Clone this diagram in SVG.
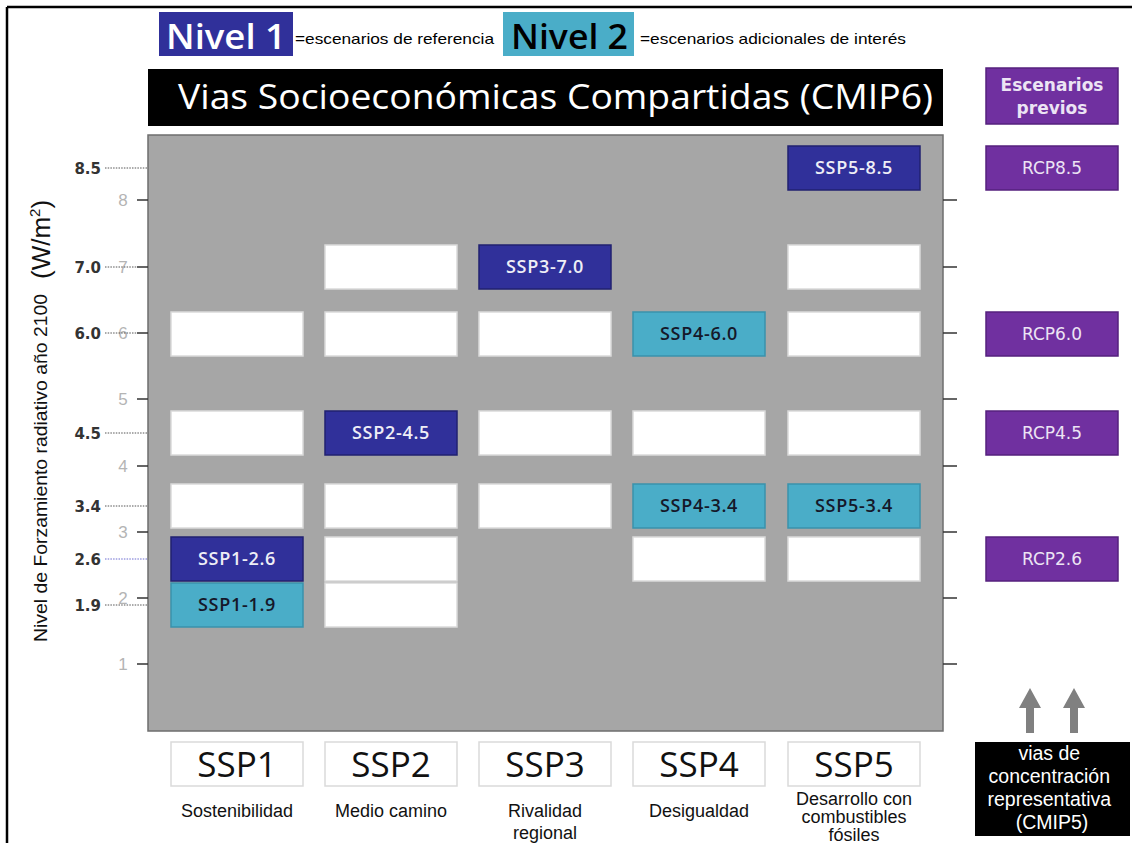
<svg xmlns="http://www.w3.org/2000/svg" width="1132" height="843" viewBox="0 0 1132 843">
<style>
.frame{stroke:#000;stroke-width:2.5;fill:none}
.panel{fill:#a6a6a6;stroke:#6e6e6e;stroke-width:1.5}
.wb{fill:#fff;stroke:#dadada;stroke-width:1.5}
.db{fill:#30309a;stroke:#202070;stroke-width:1.5}
.tb{fill:#4aadc8;stroke:#3a92ac;stroke-width:1.5}
.pb{fill:#7030a0;stroke:#55207e;stroke-width:1.5}
.lbl{font-family:"Open Sans","DejaVu Sans",sans-serif;font-size:18px;font-weight:600;letter-spacing:0.7px;text-anchor:middle}
.lw{fill:#eeeef6}
.lk{fill:#15182a}
.rl{font-family:"DejaVu Sans","Liberation Sans",sans-serif;font-size:17px;fill:#ece4f4;text-anchor:middle}
.tick{stroke:#333;stroke-width:1.5}
.dot{stroke:#555;stroke-width:1;stroke-dasharray:1.5 1.2}
.gnum{font-family:"Liberation Sans",sans-serif;font-size:17px;fill:#b4b4b4;text-anchor:middle}
.bnum{font-family:"DejaVu Sans",sans-serif;font-size:15px;font-weight:bold;fill:#333;text-anchor:end}
.ssp{font-family:"Open Sans","Liberation Sans",sans-serif;font-size:35px;fill:#111;text-anchor:middle}
.desc{font-family:"Liberation Sans",sans-serif;font-size:18px;fill:#111;text-anchor:middle}
.big{font-family:"Open Sans","Liberation Sans",sans-serif}
.small{font-family:"Liberation Sans",sans-serif;font-size:15px;fill:#000}
.arrow{fill:#808080}
</style>

<!-- outer frame -->
<line class="frame" x1="7" y1="7" x2="1132" y2="7"/>
<line class="frame" x1="7" y1="7" x2="7" y2="843"/>

<!-- legend -->
<g id="legend">
  <rect x="159" y="12" width="134" height="44" fill="#30309a"/>
  <text class="big" x="166" y="49" font-size="34" font-weight="600" fill="#fff" textLength="120" lengthAdjust="spacingAndGlyphs">Nivel 1</text>
  <text class="small" x="295" y="44" textLength="199" lengthAdjust="spacingAndGlyphs">=escenarios de referencia</text>
  <rect x="503" y="12" width="131" height="44" fill="#4aadc8"/>
  <text class="big" x="511" y="49" font-size="34" font-weight="600" fill="#000" textLength="117" lengthAdjust="spacingAndGlyphs">Nivel 2</text>
  <text class="small" x="640" y="44" textLength="266" lengthAdjust="spacingAndGlyphs">=escenarios adicionales de interés</text>
</g>

<!-- title -->
<g id="title">
  <rect x="148" y="69" width="795" height="57" fill="#000"/>
  <text class="big" x="178" y="109" font-size="34" fill="#fff" textLength="755" lengthAdjust="spacingAndGlyphs">Vias Socioeconómicas Compartidas (CMIP6)</text>
</g>

<!-- y axis title -->
<g id="yaxis-title">
  <text font-family="Liberation Sans, sans-serif" font-size="19" fill="#111" transform="translate(47,642) rotate(-90)" textLength="348" lengthAdjust="spacingAndGlyphs">Nivel de Forzamiento radiativo año 2100</text>
  <text font-family="Liberation Sans, sans-serif" font-size="26" fill="#111" transform="translate(50,279) rotate(-90)">(W/m<tspan font-size="15" dy="-10">2</tspan><tspan dy="10">)</tspan></text>
</g>

<!-- panel -->
<rect id="panel" class="panel" x="148" y="135" width="795" height="596"/>

<!-- axis ticks -->
<g id="axis">
  <line class="tick" x1="137" y1="200" x2="148" y2="200"/>
  <line class="tick" x1="137" y1="267" x2="148" y2="267"/>
  <line class="tick" x1="137" y1="333" x2="148" y2="333"/>
  <line class="tick" x1="137" y1="399" x2="148" y2="399"/>
  <line class="tick" x1="137" y1="466" x2="148" y2="466"/>
  <line class="tick" x1="137" y1="532" x2="148" y2="532"/>
  <line class="tick" x1="137" y1="598" x2="148" y2="598"/>
  <line class="tick" x1="137" y1="664" x2="148" y2="664"/>
  <line class="tick" x1="943" y1="200" x2="957" y2="200"/>
  <line class="tick" x1="943" y1="267" x2="957" y2="267"/>
  <line class="tick" x1="943" y1="333" x2="957" y2="333"/>
  <line class="tick" x1="943" y1="399" x2="957" y2="399"/>
  <line class="tick" x1="943" y1="466" x2="957" y2="466"/>
  <line class="tick" x1="943" y1="532" x2="957" y2="532"/>
  <line class="tick" x1="943" y1="598" x2="957" y2="598"/>
  <line class="tick" x1="943" y1="664" x2="957" y2="664"/>
  <text class="gnum" x="123" y="206">8</text>
  <text class="gnum" x="123" y="273">7</text>
  <text class="gnum" x="123" y="339">6</text>
  <text class="gnum" x="123" y="405">5</text>
  <text class="gnum" x="123" y="472">4</text>
  <text class="gnum" x="123" y="538">3</text>
  <text class="gnum" x="123" y="604">2</text>
  <text class="gnum" x="123" y="670">1</text>
  <line class="dot" x1="105" y1="168" x2="148" y2="168"/>
  <line class="dot" x1="105" y1="267" x2="137" y2="267"/>
  <line class="dot" x1="105" y1="333" x2="137" y2="333"/>
  <line class="dot" x1="105" y1="433" x2="148" y2="433"/>
  <line class="dot" x1="105" y1="506" x2="148" y2="506"/>
  <line class="dot" x1="105" y1="559" x2="148" y2="559" style="stroke:#6a6ad0"/>
  <line class="dot" x1="105" y1="605" x2="148" y2="605"/>
  <text class="bnum" x="101" y="174">8.5</text>
  <text class="bnum" x="101" y="273">7.0</text>
  <text class="bnum" x="101" y="339">6.0</text>
  <text class="bnum" x="101" y="439">4.5</text>
  <text class="bnum" x="101" y="512">3.4</text>
  <text class="bnum" x="101" y="565">2.6</text>
  <text class="bnum" x="101" y="611">1.9</text>
</g>

<!-- SSP1 column -->
<g id="col-ssp1">
  <rect class="wb" x="171" y="312" width="132" height="44"/>
  <rect class="wb" x="171" y="411" width="132" height="44"/>
  <rect class="wb" x="171" y="484" width="132" height="44"/>
  <g id="ssp1-26"><rect class="db" x="171" y="537" width="132" height="44"/><text class="lbl lw" x="237" y="565">SSP1-2.6</text></g>
  <g id="ssp1-19"><rect class="tb" x="171" y="583" width="132" height="44"/><text class="lbl lk" x="237" y="611">SSP1-1.9</text></g>
</g>

<!-- SSP2 column -->
<g id="col-ssp2">
  <rect class="wb" x="325" y="245" width="132" height="44"/>
  <rect class="wb" x="325" y="312" width="132" height="44"/>
  <g id="ssp2-45"><rect class="db" x="325" y="411" width="132" height="44"/><text class="lbl lw" x="391" y="439">SSP2-4.5</text></g>
  <rect class="wb" x="325" y="484" width="132" height="44"/>
  <rect class="wb" x="325" y="537" width="132" height="44"/>
  <rect class="wb" x="325" y="583" width="132" height="44"/>
</g>

<!-- SSP3 column -->
<g id="col-ssp3">
  <g id="ssp3-70"><rect class="db" x="479" y="245" width="132" height="44"/><text class="lbl lw" x="545" y="273">SSP3-7.0</text></g>
  <rect class="wb" x="479" y="312" width="132" height="44"/>
  <rect class="wb" x="479" y="411" width="132" height="44"/>
  <rect class="wb" x="479" y="484" width="132" height="44"/>
</g>

<!-- SSP4 column -->
<g id="col-ssp4">
  <g id="ssp4-60"><rect class="tb" x="633" y="312" width="132" height="44"/><text class="lbl lk" x="699" y="340">SSP4-6.0</text></g>
  <rect class="wb" x="633" y="411" width="132" height="44"/>
  <g id="ssp4-34"><rect class="tb" x="633" y="484" width="132" height="44"/><text class="lbl lk" x="699" y="512">SSP4-3.4</text></g>
  <rect class="wb" x="633" y="537" width="132" height="44"/>
</g>

<!-- SSP5 column -->
<g id="col-ssp5">
  <g id="ssp5-85"><rect class="db" x="788" y="146" width="132" height="44"/><text class="lbl lw" x="854" y="174">SSP5-8.5</text></g>
  <rect class="wb" x="788" y="245" width="132" height="44"/>
  <rect class="wb" x="788" y="312" width="132" height="44"/>
  <rect class="wb" x="788" y="411" width="132" height="44"/>
  <g id="ssp5-34"><rect class="tb" x="788" y="484" width="132" height="44"/><text class="lbl lk" x="854" y="512">SSP5-3.4</text></g>
  <rect class="wb" x="788" y="537" width="132" height="44"/>
</g>

<!-- bottom SSP labels -->
<g id="ssp-labels">
  <g id="lab-ssp1"><rect class="wb" x="171" y="742" width="132" height="44"/><text class="ssp" x="237" y="777">SSP1</text><text class="desc" x="237" y="817">Sostenibilidad</text></g>
  <g id="lab-ssp2"><rect class="wb" x="325" y="742" width="132" height="44"/><text class="ssp" x="391" y="777">SSP2</text><text class="desc" x="391" y="817">Medio camino</text></g>
  <g id="lab-ssp3"><rect class="wb" x="479" y="742" width="132" height="44"/><text class="ssp" x="545" y="777">SSP3</text><text class="desc" x="545" y="817">Rivalidad</text><text class="desc" x="545" y="839">regional</text></g>
  <g id="lab-ssp4"><rect class="wb" x="633" y="742" width="132" height="44"/><text class="ssp" x="699" y="777">SSP4</text><text class="desc" x="699" y="817">Desigualdad</text></g>
  <g id="lab-ssp5"><rect class="wb" x="788" y="742" width="132" height="44"/><text class="ssp" x="854" y="777">SSP5</text><text class="desc" x="854" y="805">Desarrollo con</text><text class="desc" x="854" y="823">combustibles</text><text class="desc" x="854" y="841">fósiles</text></g>
</g>

<!-- RCP column -->
<g id="rcp">
  <g id="previos"><rect class="pb" x="986" y="68" width="132" height="56"/><text class="rl" x="1052" y="91" font-weight="bold" font-size="18">Escenarios</text><text class="rl" x="1052" y="114" font-weight="bold" font-size="18">previos</text></g>
  <g id="rcp85"><rect class="pb" x="986" y="146" width="132" height="44"/><text class="rl" x="1052" y="174">RCP8.5</text></g>
  <g id="rcp60"><rect class="pb" x="986" y="312" width="132" height="44"/><text class="rl" x="1052" y="340">RCP6.0</text></g>
  <g id="rcp45"><rect class="pb" x="986" y="411" width="132" height="44"/><text class="rl" x="1052" y="439">RCP4.5</text></g>
  <g id="rcp26"><rect class="pb" x="986" y="537" width="132" height="44"/><text class="rl" x="1052" y="565">RCP2.6</text></g>
</g>

<!-- connectors (arrows) -->
<g id="connectors">
  <polygon class="arrow" points="1026,733 1034,733 1034,708 1041,708 1030,688 1019,708 1026,708"/>
  <polygon class="arrow" points="1070,733 1078,733 1078,708 1085,708 1074,688 1063,708 1070,708"/>
</g>

<g id="cmip5">
  <rect x="975" y="742" width="155" height="94" fill="#000"/>
  <text font-family="Liberation Sans, sans-serif" font-size="19.5" fill="#fff" text-anchor="middle">
    <tspan x="1052" y="760">vias de</tspan>
    <tspan x="1052" y="783">concentración</tspan>
    <tspan x="1052" y="806">representativa</tspan>
    <tspan x="1052" y="829">(CMIP5)</tspan>
  </text>
</g>
</svg>
